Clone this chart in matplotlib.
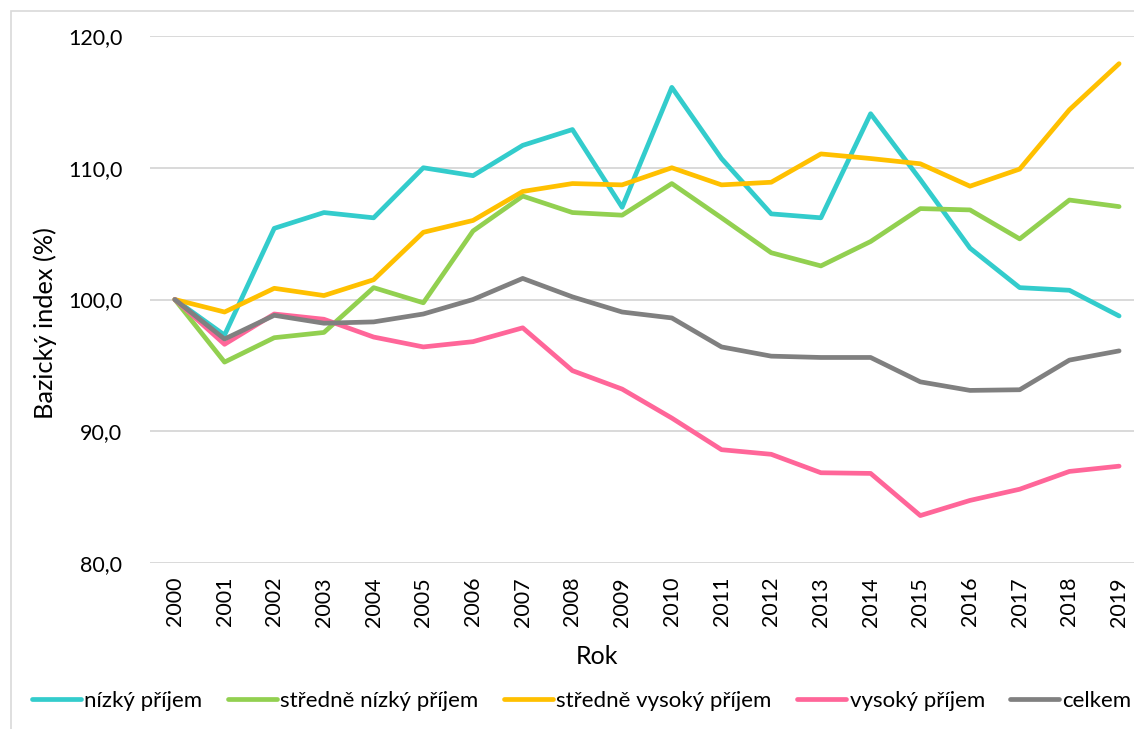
import matplotlib
matplotlib.use('Agg')
import matplotlib.pyplot as plt
from matplotlib.patches import Rectangle
from matplotlib.ticker import FuncFormatter

# ---- data ----
years = [str(y) for y in range(2000, 2020)]

nizky = [100.0, 97.3, 105.4, 106.6, 106.2, 110.0, 109.4, 111.7, 112.9, 107.0,
         116.1, 110.7, 106.5, 106.2, 114.1, 109.1, 103.9, 100.9, 100.7, 98.75]
str_nizky = [100.0, 95.25, 97.1, 97.5, 100.9, 99.75, 105.2, 107.85, 106.6, 106.4,
             108.8, 106.2, 103.55, 102.55, 104.4, 106.9, 106.8, 104.6, 107.55, 107.05]
str_vysoky = [100.0, 99.05, 100.85, 100.3, 101.5, 105.1, 106.0, 108.2, 108.8, 108.7,
              110.0, 108.7, 108.9, 111.05, 110.7, 110.3, 108.6, 109.9, 114.4, 117.9]
vysoky = [100.0, 96.6, 98.9, 98.5, 97.15, 96.4, 96.8, 97.85, 94.6, 93.2,
          91.0, 88.6, 88.25, 86.85, 86.8, 83.6, 84.75, 85.6, 86.95, 87.35]
celkem = [100.0, 97.0, 98.8, 98.2, 98.3, 98.9, 100.0, 101.6, 100.2, 99.05,
          98.6, 96.4, 95.7, 95.6, 95.6, 93.75, 93.1, 93.15, 95.4, 96.1]

series_names = ['nízký příjem', 'středně nízký příjem', 'středně vysoký příjem',
                'vysoký příjem', 'celkem']
series_vals = [nizky, str_nizky, str_vysoky, vysoky, celkem]
colors = ['#33CCCC', '#92D050', '#FFC000', '#FF6699', '#808080']

plt.rcParams['font.family'] = ['Lato', 'DejaVu Sans']

W, H = 1134, 729
fig = plt.figure(figsize=(W / 100, H / 100), dpi=100)

# chart frame (light grey, cut off at right and bottom like the reference)
fig.patches.append(Rectangle((11 / W, -0.1), 1.2, 1.1 - 11 / H,
                             transform=fig.transFigure, fill=False,
                             edgecolor='#D9D9D9', linewidth=1.2))

ax = fig.add_axes([150 / W, 166 / H, (W - 150) / W, (563 - 36) / H])

x = list(range(len(years)))
for name, vals, c in zip(series_names, series_vals, colors):
    ax.plot(x, vals, color=c, linewidth=3.4, label=name,
            solid_capstyle='round', solid_joinstyle='round')

ax.set_xlim(-0.5, 19.3)
ax.set_ylim(80, 120)
ax.set_yticks([80, 90, 100, 110, 120])
ax.yaxis.set_major_formatter(FuncFormatter(lambda v, p: f'{v:.1f}'.replace('.', ',')))
ax.set_xticks(x)
ax.set_xticklabels(years, rotation=90)
ax.grid(axis='y', color='#D9D9D9', linewidth=1.4)
ax.set_axisbelow(True)
for s in ax.spines.values():
    s.set_visible(False)
ax.tick_params(axis='both', length=0, labelsize=15.5, colors='black')
ax.tick_params(axis='y', pad=20)
ax.tick_params(axis='x', pad=10)

fig.text(45 / W, 1 - 323 / H, 'Bazický index (%)', fontsize=18.3, rotation=90,
         ha='center', va='center')
fig.text(597 / W, 1 - 657 / H, 'Rok', fontsize=18, ha='center', va='center')

fig.legend(loc='center', bbox_to_anchor=(582 / W, 1 - 701 / H), ncol=5,
           frameon=False, fontsize=16, handlelength=2.2, handletextpad=0.15,
           columnspacing=1.15, borderaxespad=0)

fig.savefig('out.png', dpi=100)
